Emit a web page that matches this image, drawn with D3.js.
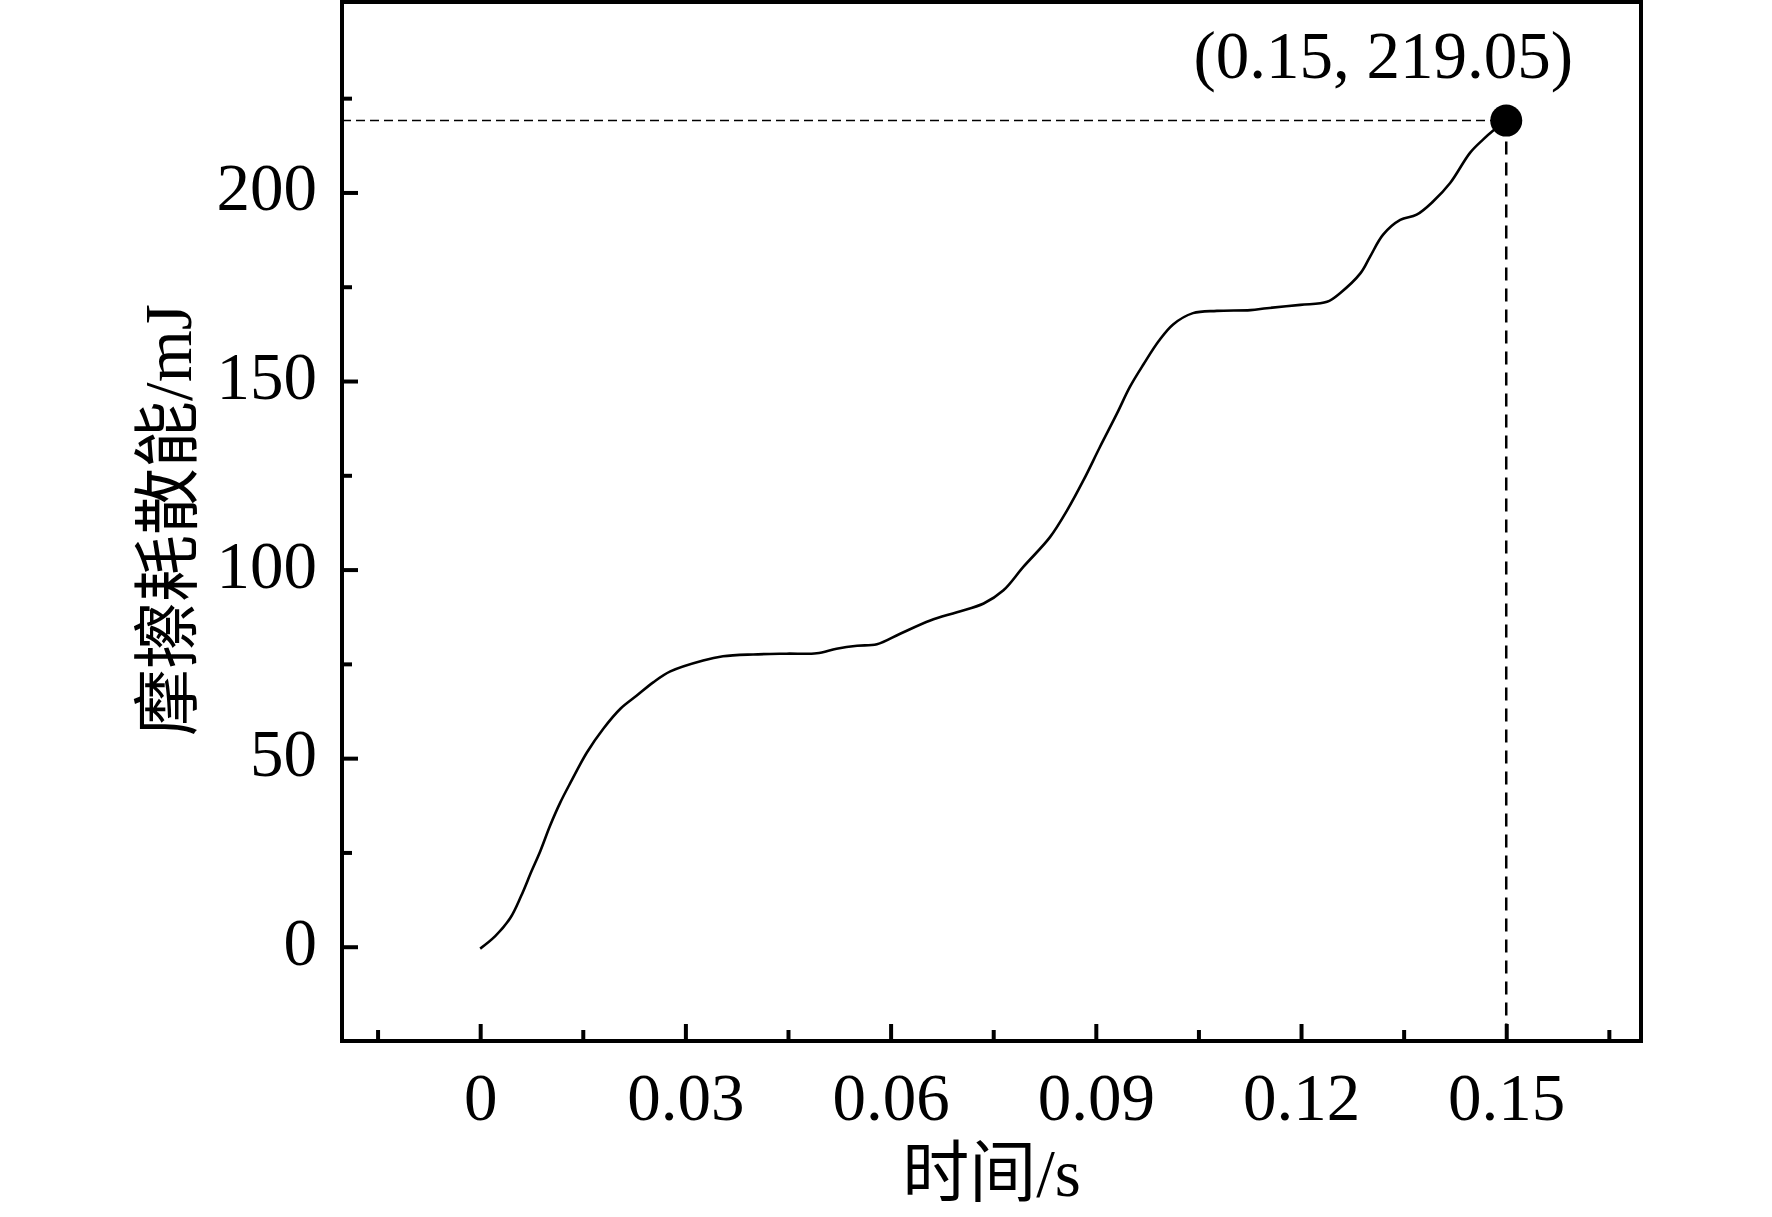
<!DOCTYPE html>
<html>
<head>
<meta charset="utf-8">
<script src="https://cdn.jsdelivr.net/npm/d3@7"></script>
<style>
  html, body { margin: 0; padding: 0; background: #fff; }
  svg { display: block; }
  text { font-family: "Liberation Serif", "Times New Roman", "Noto Sans CJK SC", serif; fill: #000; }
</style>
</head>
<body>
<svg id="chart" width="1772" height="1217"></svg>
<script>
// ---- data ----
const timeS = [0, 0.0022, 0.0044, 0.0060, 0.0075, 0.0088, 0.0102, 0.0117, 0.0132, 0.0156, 0.018, 0.0205, 0.0229, 0.0253, 0.0278, 0.0326, 0.0355, 0.0399, 0.0448, 0.0492, 0.0521, 0.0551, 0.058, 0.0614, 0.0658, 0.0697, 0.0736, 0.0765, 0.0794, 0.0833, 0.0858, 0.0882, 0.0906, 0.0931, 0.0950, 0.0970, 0.0992, 0.1013, 0.1042, 0.1077, 0.1126, 0.115, 0.1199, 0.1238, 0.1257, 0.1287, 0.1301, 0.132, 0.1345, 0.1369, 0.1393, 0.1418, 0.1447, 0.1466, 0.1481, 0.15];
const energyMJ = [-0.5, 2.8, 7.6, 13.5, 20, 25.4, 32, 38.2, 43.5, 51.5, 57.8, 63.1, 66.6, 70.1, 73.0, 75.9, 77.0, 77.5, 77.7, 77.8, 79, 79.8, 80.2, 83, 86.5, 88.7, 91, 94.5, 100.7, 108.6, 115.7, 123.7, 132.5, 141.4, 148.5, 154.5, 160.6, 165.0, 168.0, 168.6, 168.8, 169.3, 170.2, 171, 173.3, 178.6, 183, 188.8, 192.7, 194.1, 197.6, 202.5, 210.5, 214, 216.4, 219.05];
const peakPoint = [0.15, 219.05];
const peakLabel = "(0.15, 219.05)";
const xMajorTicks = [0, 0.03, 0.06, 0.09, 0.12, 0.15];
const xTickLabels = ["0", "0.03", "0.06", "0.09", "0.12", "0.15"];
const xMinorTicks = [-0.015, 0.015, 0.045, 0.075, 0.105, 0.135, 0.165];
const yMajorTicks = [0, 50, 100, 150, 200];
const yMinorTicks = [25, 75, 125, 175, 225];
const xTitle = "时间/s";
const yTitle = "摩擦耗散能/mJ";

// ---- layout ----
const L = 342, R = 1641, T = 2, B = 1041;
const svg = d3.select("#chart");
svg.append("rect").attr("width", 1772).attr("height", 1217).attr("fill", "#fff");

const x = d3.scaleLinear().domain([-0.0202, 0.1697]).range([L, R]);
const y = d3.scaleLinear().domain([-25, 250.5]).range([B, T]);

// dashed guide lines
svg.append("line")
  .attr("x1", L).attr("x2", x(peakPoint[0]))
  .attr("y1", y(peakPoint[1])).attr("y2", y(peakPoint[1]))
  .attr("stroke", "#000").attr("stroke-width", 1.5).attr("stroke-dasharray", "9,5");
svg.append("line")
  .attr("x1", x(peakPoint[0])).attr("x2", x(peakPoint[0]))
  .attr("y1", y(peakPoint[1])).attr("y2", B)
  .attr("stroke", "#000").attr("stroke-width", 2.5).attr("stroke-dasharray", "13,8");

// curve
const pts = timeS.map((t, i) => [t, energyMJ[i]]);
svg.append("path")
  .datum(pts)
  .attr("fill", "none").attr("stroke", "#000").attr("stroke-width", 2.6)
  .attr("stroke-linejoin", "round")
  .attr("d", d3.line().x(d => x(d[0])).y(d => y(d[1])).curve(d3.curveCatmullRom.alpha(0.5)));

// peak marker
svg.append("circle")
  .attr("cx", x(peakPoint[0])).attr("cy", y(peakPoint[1])).attr("r", 16).attr("fill", "#000");
svg.append("text")
  .attr("x", 1573).attr("y", 78).attr("text-anchor", "end")
  .attr("font-size", 67).text(peakLabel);

// axes
const xAxis = svg.append("g").attr("transform", `translate(0,${B})`)
  .call(d3.axisBottom(x).tickValues(xMajorTicks).tickSizeInner(-17).tickSizeOuter(0)
    .tickPadding(31).tickFormat((d, i) => xTickLabels[i]));
xAxis.select(".domain").remove();
xAxis.selectAll("line").attr("stroke-width", 4);
xAxis.selectAll("text").attr("font-size", 67).attr("font-family", null);

const xMinor = svg.append("g").attr("transform", `translate(0,${B})`)
  .call(d3.axisBottom(x).tickValues(xMinorTicks).tickSizeInner(-11).tickSizeOuter(0).tickFormat(""));
xMinor.select(".domain").remove();
xMinor.selectAll("line").attr("stroke-width", 4);

const yAxis = svg.append("g").attr("transform", `translate(${L},0)`)
  .call(d3.axisLeft(y).tickValues(yMajorTicks).tickSizeInner(-16).tickSizeOuter(0)
    .tickPadding(25).tickFormat(d3.format("d")));
yAxis.select(".domain").remove();
yAxis.selectAll("line").attr("stroke-width", 4);
yAxis.selectAll("text").attr("font-size", 67).attr("font-family", null).attr("dy", "0.26em");

const yMinor = svg.append("g").attr("transform", `translate(${L},0)`)
  .call(d3.axisLeft(y).tickValues(yMinorTicks).tickSizeInner(-10).tickSizeOuter(0).tickFormat(""));
yMinor.select(".domain").remove();
yMinor.selectAll("line").attr("stroke-width", 4);

// frame
svg.append("rect")
  .attr("x", L).attr("y", T).attr("width", R - L).attr("height", B - T)
  .attr("fill", "none").attr("stroke", "#000").attr("stroke-width", 4);

// titles
svg.append("text")
  .attr("x", (L + R) / 2).attr("y", 1196).attr("text-anchor", "middle")
  .attr("font-size", 67).text(xTitle);
svg.append("text")
  .attr("transform", `translate(191,${520}) rotate(-90)`)
  .attr("text-anchor", "middle")
  .attr("font-size", 67).text(yTitle);
</script>
</body>
</html>
